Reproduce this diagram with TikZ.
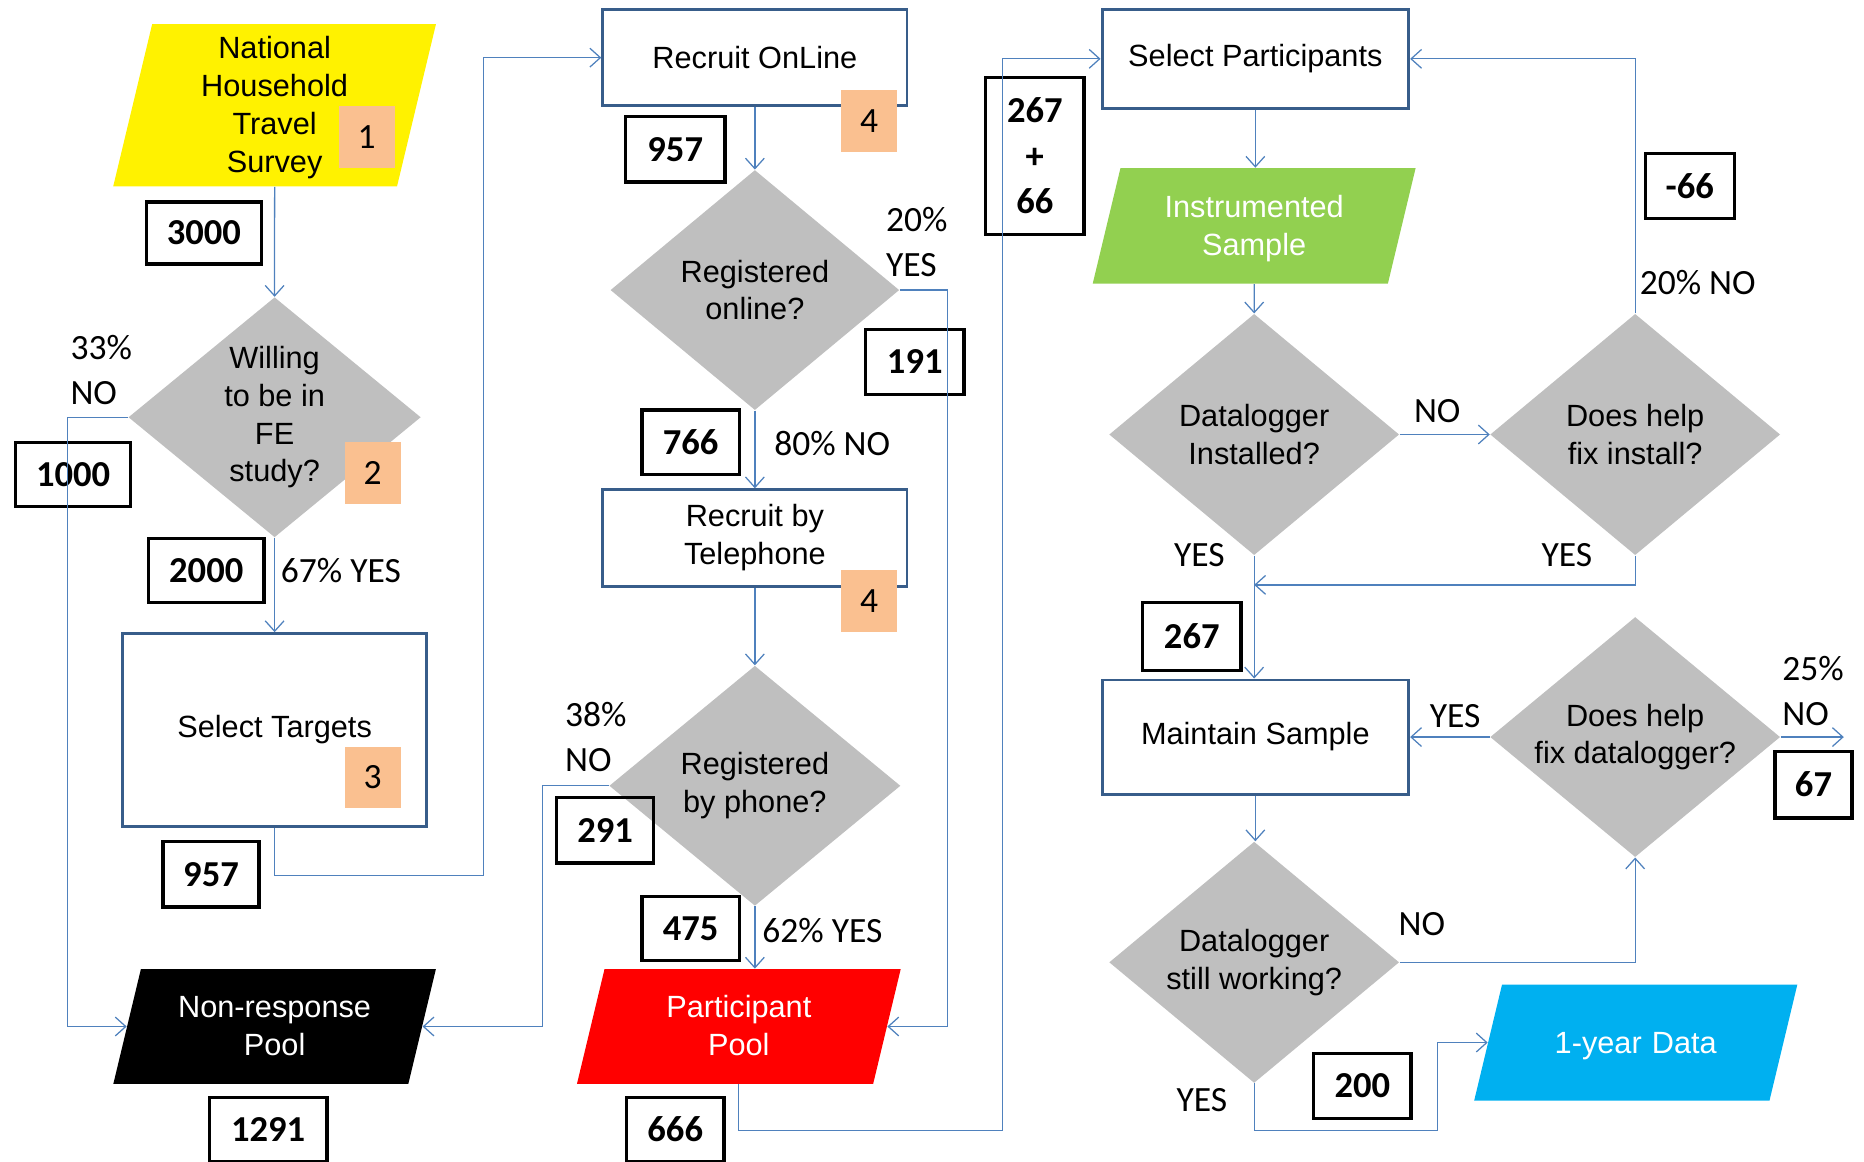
\documentclass[tikz,border=0pt]{standalone}
\usepackage{fontspec}
\setmainfont{Liberation Sans}
\newfontfamily\calib{Carlito}
\usetikzlibrary{shapes.geometric,arrows.meta}
\definecolor{connbleu}{HTML}{4F81BD}
\definecolor{bord}{HTML}{385D8A}
\definecolor{gris}{HTML}{BFBFBF}
\definecolor{saumon}{HTML}{FAC090}
\definecolor{vert}{HTML}{92D050}
\definecolor{bleu}{HTML}{00B0F0}
\newcommand\boitefont{\fontsize{14.7}{18.1}\selectfont}
\tikzset{
  lien/.style={draw=connbleu, line width=0.6pt, -{Straight Barb[length=5pt,width=9pt]}},
  etape/.style={draw=bord, line width=1.4pt, align=center, font=\boitefont},
  test/.style={diamond, fill=gris, aspect=1.2, inner sep=0pt, align=center, font=\boitefont},
  donnee/.style={trapezium, trapezium left angle=76.5, trapezium right angle=103.5,
    inner sep=0pt, text width=4.5cm, text height=23.6pt, text depth=31.7pt,
    align=center, font=\boitefont},
  nombre/.style={draw, line width=1.6pt, minimum width=1.64cm, minimum height=1.1cm,
    align=center, font=\calib\bfseries\fontsize{17.5}{21.7}\selectfont},
  repere/.style={fill=saumon, minimum width=0.94cm, minimum height=1.04cm,
    font=\calib\fontsize{17}{20}\selectfont},
  texte/.style={inner sep=0pt, align=left, font=\calib\fontsize{17}{21.5}\selectfont},
}
\begin{document}
\begin{tikzpicture}[x=0.02cm, y=-0.02cm]
\useasboundingbox (0,0) rectangle (1568,977);
% Survey
\node[donnee, fill=yellow, text width=4.12cm, text height=16.6pt, text depth=61.1pt] (nhts) at (231,88.5) {National\\Household\\Travel\\Survey};
\node[repere] (r1) at (308.5,115) {1};
\node[nombre, minimum width=1.94cm, minimum height=1.04cm] (n3000) at (171.5,196) {3000};
% Willing
\node[test, minimum width=4.92cm, minimum height=4.04cm] (willing) at (231,351) {Willing\\to be in\\FE\\study?};
\node[repere] (r2) at (313.5,398) {2};
\node[texte, anchor=west] (l33) at (59,311) {33\%\\NO};
\node[nombre, minimum width=1.94cm, minimum height=1.08cm] (n1000) at (61.5,399) {1000};
\node[nombre, minimum width=1.94cm, minimum height=1.08cm] (n2000) at (173.5,480) {2000};
\node[texte, anchor=west] (l67) at (236,480) {67\% YES};
% Targets
\node[etape, minimum width=5.12cm, minimum height=3.24cm] (targets) at (231,614) {Select Targets};
\node[repere] (r3) at (313.5,654) {3};
\node[nombre, minimum width=1.62cm] (n957a) at (177.5,735.5) {957};
% Non-response
\node[donnee, fill=black, text=white, text height=23.4pt, text depth=31.6pt] (nonresp) at (231,863.5) {Non-response\\Pool};
\node[nombre, minimum width=1.98cm, minimum height=1.08cm] (n1291) at (225.5,950) {1291};
% Online
\node[etape, minimum width=5.12cm, minimum height=1.62cm] (online) at (635,48.5) {Recruit OnLine};
\node[repere] (r4a) at (731,102) {4};
\node[nombre, minimum width=1.68cm] (n957b) at (568,125.5) {957};
\node[test, minimum width=4.86cm, minimum height=4.04cm] (regonline) at (635,244) {Registered\\online?};
\node[texte, anchor=west] (l20) at (745,203.5) {20\%\\YES};
\node[nombre, minimum width=1.66cm] (n191) at (769.5,304.5) {191};
\node[nombre, minimum height=1.08cm] (n766) at (581,372) {766};
\node[texte, anchor=west] (l80) at (651,373) {80\% NO};
% Telephone
\node[etape, minimum width=5.12cm, minimum height=1.62cm] (phone) at (635,452.5) {Recruit by\\Telephone};
\node[repere] (r4b) at (731,505.5) {4};
\node[test, minimum width=4.9cm, minimum height=4.04cm] (regphone) at (635,661) {Registered\\by phone?};
\node[texte, anchor=west] (l38) at (475,620) {38\%\\NO};
\node[nombre] (n291) at (509,698.5) {291};
\node[nombre, minimum height=1.08cm] (n475) at (581,781) {475};
\node[texte, anchor=west] (l62) at (641,783) {62\% YES};
% Participant pool
\node[donnee, fill=red, text=white, text width=4.52cm, text height=23.4pt, text depth=31.6pt] (pool) at (621.5,863.5) {Participant\\Pool};
\node[nombre, minimum height=1.08cm] (n666) at (568,950) {666};
\node[nombre, minimum width=1.66cm, minimum height=2.64cm] (n267p66) at (870.5,131) {267\\+\\66};
% Participants
\node[etape, minimum width=5.16cm, minimum height=1.66cm] (selpart) at (1056,49.5) {Select Participants};
\node[donnee, fill=vert, text=white] (instr) at (1055,190) {Instrumented\\Sample};
\node[test, minimum width=4.88cm, minimum height=4.06cm] (installed) at (1055,365.5) {Datalogger\\Installed?};
\node[texte] (lno1) at (1209,346) {NO};
\node[test, minimum width=4.88cm, minimum height=4.06cm] (fixinstall) at (1375.5,365.5) {Does help\\fix install?};
\node[nombre, minimum width=1.5cm] (nm66) at (1421.5,156.5) {-66};
\node[texte, anchor=west] (l20no) at (1379,238) {20\% NO};
\node[texte] (lyes1) at (1009,467) {YES};
\node[texte] (lyes2) at (1318,467) {YES};
\node[nombre, minimum width=1.66cm, minimum height=1.14cm] (n267) at (1002.5,535.5) {267};
% Maintain
\node[etape, minimum width=5.16cm, minimum height=1.92cm] (maintain) at (1056,620) {Maintain Sample};
\node[test, minimum width=4.88cm, minimum height=4.04cm] (fixlogger) at (1375.5,620) {Does help\\fix datalogger?};
\node[texte] (lyes3) at (1224,602) {YES};
\node[texte, anchor=west] (l25) at (1499,581) {25\%\\NO};
\node[nombre, minimum width=1.3cm, minimum height=1.12cm] (n67) at (1525.5,660) {67};
\node[test, minimum width=4.88cm, minimum height=4.06cm] (working) at (1055,809.5) {Datalogger\\still working?};
\node[texte] (lno2) at (1196,777) {NO};
\node[donnee, fill=bleu, text=white, text height=33pt, text depth=22.6pt] (yeardata) at (1376,877) {1-year Data};
\node[texte] (lyes4) at (1011,925) {YES};
\node[nombre] (n200) at (1146,913.5) {200};
% Coudes
\coordinate (trunk) at (843,951);
\coordinate (merge) at (1055,492);
\coordinate (loss) at (1551,620);
\coordinate (elbow) at (1209,951);
% Liens
\draw[lien] (nhts.south) -- (willing.north);
\draw[lien] (willing.west) -- ++(-51,0) |- (nonresp.left side);
\draw[lien] (willing.south) -- (targets.north);
\draw[lien] (targets.south) |- ++(176,40) |- (online.west);
\draw[lien] (online.south) -- (regonline.north);
\draw[lien] (regonline.south) -- (phone.north);
\draw[lien] (regonline.east) -- ++(40,0) |- (pool.right side);
\draw[lien] (phone.south) -- (regphone.north);
\draw[lien] (regphone.west) -- ++(-56,0) |- (nonresp.right side);
\draw[lien] (regphone.south) -- (regphone.south |- pool.north);
\draw[lien] (pool.south) |- (trunk) |- (selpart.west);
\draw[lien] (selpart.south) -- (selpart.south |- instr.north);
\draw[lien] (instr.south) -- (installed.north);
\draw[lien] (installed.east) -- (fixinstall.west);
\draw[lien] (fixinstall.north) |- (selpart.east);
\draw[lien] (fixinstall.south) |- (merge);
\draw[lien] (installed.south) -- (installed.south |- maintain.north);
\draw[lien] (fixlogger.west) -- (maintain.east);
\draw[lien] (fixlogger.east) -- (loss);
\draw[lien] (maintain.south) -- (maintain.south |- working.north);
\draw[lien] (working.east) -| (fixlogger.south);
\draw[lien] (working.south) |- (elbow) |- (yeardata.left side);
\end{tikzpicture}
\end{document}
